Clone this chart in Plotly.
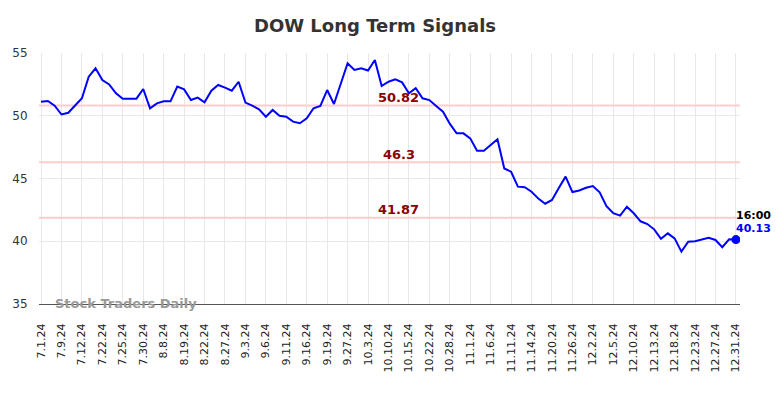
import plotly.graph_objects as go

tick_labels = ["7.1.24", "7.9.24", "7.12.24", "7.22.24", "7.25.24", "7.30.24", "8.8.24",
               "8.19.24", "8.22.24", "8.27.24", "9.3.24", "9.6.24", "9.11.24", "9.16.24",
               "9.19.24", "9.27.24", "10.3.24", "10.10.24", "10.15.24", "10.22.24", "10.28.24",
               "11.1.24", "11.6.24", "11.11.24", "11.14.24", "11.20.24", "11.26.24", "12.2.24",
               "12.5.24", "12.10.24", "12.13.24", "12.18.24", "12.23.24", "12.27.24", "12.31.24"]

prices = [51.12, 51.18, 50.8, 50.1, 50.24, 50.86, 51.4, 53.11, 53.78, 52.85,
          52.5, 51.79, 51.36, 51.36, 51.36, 52.13, 50.59, 50.99, 51.15, 51.15,
          52.32, 52.1, 51.25, 51.44, 51.07, 52.0, 52.45, 52.24, 52.0, 52.71,
          51.05, 50.8, 50.51, 49.92, 50.46, 50.0, 49.92, 49.53, 49.4, 49.8,
          50.6, 50.78, 52.05, 50.94, 52.59, 54.18, 53.65, 53.78, 53.6, 54.44,
          52.37, 52.71, 52.9, 52.66, 51.79, 52.19, 51.39, 51.25, 50.78, 50.32,
          49.37, 48.6, 48.6, 48.2, 47.21, 47.21, 47.67, 48.13, 45.8, 45.54,
          44.35, 44.3, 43.95, 43.4, 42.99, 43.29, 44.24, 45.15, 43.92, 44.05,
          44.26, 44.4, 43.9, 42.8, 42.23, 42.04, 42.75, 42.23, 41.59, 41.37,
          40.95, 40.2, 40.63, 40.23, 39.17, 39.96, 40.0, 40.15, 40.28, 40.1,
          39.52, 40.16, 40.13]

signal_levels = [50.82, 46.3, 41.87]
last_time = "16:00"

n = len(prices)
x_idx = list(range(n))
tick_vals = list(range(0, n, 3))

W, H = 776, 390  # page body has an 8px default margin

fig = go.Figure()

for lvl in signal_levels:
    fig.add_trace(go.Scatter(x=[-0.3, n - 1 + 0.6], y=[lvl, lvl], mode="lines",
                             line=dict(color="#ffcccc", width=2), hoverinfo="skip",
                             showlegend=False))

fig.add_trace(go.Scatter(x=x_idx, y=prices, mode="lines",
                         line=dict(color="#0000ff", width=2), showlegend=False))
fig.add_trace(go.Scatter(x=[x_idx[-1]], y=[prices[-1]], mode="markers",
                         marker=dict(color="#0000ff", size=9), showlegend=False))

for lvl in signal_levels:
    fig.add_annotation(x=52.5, y=lvl, text=f"<b>{lvl:g}</b>", showarrow=False,
                       yshift=8, font=dict(family="DejaVu Sans", size=13, color="#8b0000"))

fig.add_annotation(x=x_idx[-1], y=prices[-1], text=f"<b>{last_time}</b>", showarrow=False,
                   xanchor="left", xshift=-2, yshift=24,
                   font=dict(family="DejaVu Sans", size=11, color="#000000"))
fig.add_annotation(x=x_idx[-1], y=prices[-1], text=f"<b>{prices[-1]:.2f}</b>", showarrow=False,
                   xanchor="left", xshift=-2, yshift=11,
                   font=dict(family="DejaVu Sans", size=11, color="#0000ff"))

fig.add_annotation(x=12.5, y=35, text="<b>Stock Traders Daily</b>", showarrow=False,
                   yshift=1, font=dict(family="DejaVu Sans", size=13, color="#999999"))

fig.update_layout(
    width=W, height=H,
    margin=dict(l=31, r=44, t=45, b=94),
    paper_bgcolor="white", plot_bgcolor="white",
    title=dict(text="<b>DOW Long Term Signals</b>", x=(375 - 8) / W, xanchor="center",
               y=1 - 18 / H, yanchor="middle",
               font=dict(family="DejaVu Sans", size=18, color="#333333")),
    font=dict(family="DejaVu Sans", color="#333333"),
)
fig.update_xaxes(range=[-0.3, n - 1 + 0.6], tickvals=tick_vals, ticktext=tick_labels,
                 tickangle=-90, tickfont=dict(family="DejaVu Sans", size=11, color="#222222"),
                 showgrid=True, gridcolor="#e8e8e8", gridwidth=1, automargin=False,
                 showline=True, linecolor="#555555", linewidth=1,
                 ticks="outside", ticklen=14, tickcolor="rgba(0,0,0,0)", zeroline=False)
fig.update_yaxes(range=[35, 55], tickvals=[35, 40, 45, 50, 55], automargin=False,
                 tickfont=dict(family="DejaVu Sans", size=12, color="#333333"),
                 showgrid=True, gridcolor="#e8e8e8", gridwidth=1, zeroline=False,
                 showline=False, ticks="outside", ticklen=8, tickcolor="rgba(0,0,0,0)")

fig.write_html("out.html")
